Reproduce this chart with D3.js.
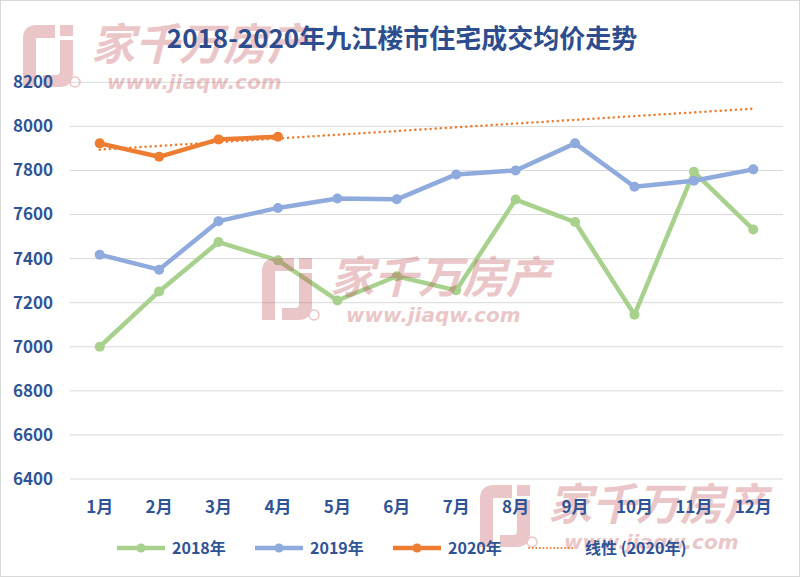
<!DOCTYPE html>
<html>
<head>
<meta charset="utf-8">
<script src="https://cdn.jsdelivr.net/npm/d3@7"></script>
<style>
  body { margin: 0; background: #fff; }
  svg { display: block; }
</style>
</head>
<body>
<div id="chart"></div>
<script>
const width = 805, height = 577;
const margin = { top: 82, right: 22, bottom: 98, left: 70 };

const months = ["1月", "2月", "3月", "4月", "5月", "6月", "7月", "8月", "9月", "10月", "11月", "12月"];
const yTicks = [6400, 6600, 6800, 7000, 7200, 7400, 7600, 7800, 8000, 8200];
const price2018 = [7000, 7251, 7475, 7392, 7210, 7320, 7256, 7668, 7566, 7145, 7794, 7532];
const price2019 = [7418, 7350, 7570, 7630, 7673, 7669, 7782, 7800, 7923, 7726, 7753, 7805];
const price2020 = [7923, 7862, 7941, 7953];

const titleText = "2018-2020年九江楼市住宅成交均价走势";
const font = "'Noto Sans CJK SC', 'Liberation Sans', sans-serif";
const blueText = "#2F5496";

const svg = d3.select("#chart").append("svg").attr("width", width).attr("height", height);

// frame
svg.append("rect").attr("x", 0.5).attr("y", 0.5).attr("width", width - 6).attr("height", height - 1)
    .attr("fill", "#fff").attr("stroke", "#D9D9D9");

var x = d3.scaleBand().domain(months).range([margin.left, width - margin.right]).padding(0);
var y = d3.scaleLinear().domain([6400, 8200]).range([479, 82.3]);
const cx = d => x(d) + x.bandwidth() / 2;

// watermark helper (site logo + text, semi transparent)
function watermark(parent, ox, oy) {
  var g = parent.append("g").attr("transform", "translate(" + ox + "," + oy + ")")
      .attr("opacity", 0.33).attr("pointer-events", "none");
  g.append("path").attr("d", "M0,62 V14 Q0,0 14,0 H32 V13 H13 V62 Z").attr("fill", "#C0555B");
  g.append("path").attr("d", "M37,15 H50 V48 Q50,62 36,62 H20 V50 H33 Q37,50 37,46 Z").attr("fill", "#C0555B");
  g.append("rect").attr("x", 37).attr("y", 0).attr("width", 13).attr("height", 11).attr("fill", "#C0555B");
  g.append("circle").attr("cx", 52).attr("cy", 57).attr("r", 5).attr("fill", "none")
      .attr("stroke", "#C0555B").attr("stroke-width", 1.5);
  g.append("text").attr("x", 68).attr("y", 35).attr("font-family", font).attr("font-size", 44)
      .attr("font-weight", "bold").attr("font-style", "italic").attr("fill", "#C0555B").text("家千万房产");
  g.append("text").attr("x", 84).attr("y", 64).attr("font-family", "'DejaVu Sans', sans-serif").attr("font-size", 20)
      .attr("font-weight", "bold").attr("font-style", "italic").attr("fill", "#C0555B").text("www.jiaqw.com");
}

// gridlines
svg.append("g").selectAll("line").data(yTicks).enter().append("line")
    .attr("x1", margin.left).attr("x2", width - margin.right)
    .attr("y1", d => y(d)).attr("y2", d => y(d))
    .attr("stroke", "#D9D9D9").attr("stroke-width", 1);

// linear trend for 2020
var xs = price2020.map((d, i) => i + 1);
var mx = d3.mean(xs), my = d3.mean(price2020);
var slope = d3.sum(xs, (v, i) => (v - mx) * (price2020[i] - my)) / d3.sum(xs, v => (v - mx) * (v - mx));
var icpt = my - slope * mx;
var trend = [{ m: months[0], v: icpt + slope * 1 }, { m: months[11], v: icpt + slope * 12 }];

svg.append("path").datum(trend)
    .attr("d", d3.line().x(d => cx(d.m)).y(d => y(d.v)))
    .attr("fill", "none").attr("stroke", "#ED7D31").attr("stroke-width", 2.5)
    .attr("stroke-dasharray", "0.1 5").attr("stroke-linecap", "round");

const series = [
  { name: "2018年", values: price2018, color: "#A9D18E" },
  { name: "2019年", values: price2019, color: "#8FAADC" },
  { name: "2020年", values: price2020, color: "#ED7D31" }
];

var line = d3.line().x((d, i) => cx(months[i])).y(d => y(d));

series.forEach(function (s) {
  var g = svg.append("g");
  g.append("path").datum(s.values).attr("d", line)
      .attr("fill", "none").attr("stroke", s.color).attr("stroke-width", 4.5).attr("stroke-linejoin", "round");
  g.selectAll("circle").data(s.values).enter().append("circle")
      .attr("cx", (d, i) => cx(months[i])).attr("cy", d => y(d)).attr("r", 5)
      .attr("fill", s.color);
});

// watermarks sit over the lines but under the texts
watermark(svg, 23, 25);
watermark(svg, 262, 258);
watermark(svg, 480, 485);

// y axis labels
var yAxis = svg.append("g").attr("transform", "translate(" + 53 + ",0)")
    .call(d3.axisLeft(y).tickValues(yTicks).tickSize(0).tickPadding(0).tickFormat(d3.format("d")));
yAxis.select(".domain").remove();
yAxis.selectAll("text").attr("font-family", font).attr("font-size", 17).attr("font-weight", "bold")
    .attr("fill", blueText);

// x axis labels
var xAxis = svg.append("g").attr("transform", "translate(0," + 501 + ")")
    .call(d3.axisBottom(x).tickSize(0).tickPadding(0));
xAxis.select(".domain").remove();
xAxis.selectAll("text").attr("font-family", font).attr("font-size", 17).attr("font-weight", "bold")
    .attr("fill", blueText);

// legend
var legendItems = [
  { name: "2018年", color: "#A9D18E", x: 117, dotted: false },
  { name: "2019年", color: "#8FAADC", x: 255, dotted: false },
  { name: "2020年", color: "#ED7D31", x: 393, dotted: false },
  { name: "线性 (2020年)", color: "#ED7D31", x: 529, dotted: true }
];
var legend = svg.append("g");
legendItems.forEach(function (it) {
  var ly = 548;
  if (it.dotted) {
    legend.append("line").attr("x1", it.x).attr("x2", it.x + 46).attr("y1", ly).attr("y2", ly)
        .attr("stroke", it.color).attr("stroke-width", 1.8).attr("stroke-dasharray", "0.1 3.5").attr("stroke-linecap", "round");
  } else {
    legend.append("line").attr("x1", it.x).attr("x2", it.x + 48).attr("y1", ly).attr("y2", ly)
        .attr("stroke", it.color).attr("stroke-width", 4.5);
    legend.append("circle").attr("cx", it.x + 24).attr("cy", ly).attr("r", 4.5).attr("fill", it.color);
  }
  legend.append("text").attr("x", it.x + (it.dotted ? 56 : 55)).attr("y", ly).attr("dy", "0.35em")
      .attr("font-family", font).attr("font-size", 16).attr("font-weight", "bold")
      .attr("fill", blueText).text(it.name);
});

// title
svg.append("text").attr("x", 402).attr("y", 39).attr("dy", "0.35em").attr("text-anchor", "middle")
    .attr("font-family", font).attr("font-size", 26).attr("font-weight", "bold")
    .attr("fill", "#2E4D8E").text(titleText);
</script>
</body>
</html>
